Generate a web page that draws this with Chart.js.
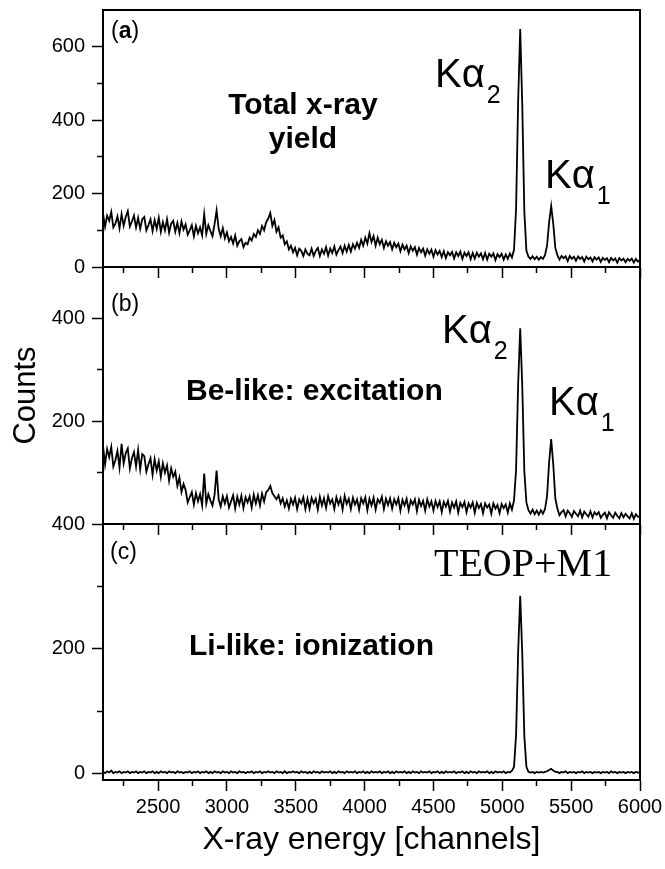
<!DOCTYPE html>
<html>
<head>
<meta charset="utf-8">
<script src="https://cdn.jsdelivr.net/npm/chart.js@4.4.1/dist/chart.umd.min.js"></script>
<style>
  body { margin: 0; background: #fff; }
  #fig { position: relative; width: 665px; height: 869px; overflow: hidden;
         font-family: "Liberation Sans", Arial, sans-serif; color: #000; }
  #fig canvas { position: absolute; left: 0; top: 0; }
  .lbl { position: absolute; white-space: nowrap; line-height: 1; }
  .tag { font-size: 23px; }
  .ann { font-size: 30px; font-weight: bold; }
  .ka { font-size: 40px; }
  .ka sub { font-size: 25px; line-height: 0; vertical-align: -16px; margin-left: 2px; }
  .teop { font-family: "Liberation Serif", "Times New Roman", serif; font-size: 40px; }
</style>
</head>
<body>
<div id="fig">
  <canvas id="panelA" width="665" height="869"></canvas>
  <canvas id="panelB" width="665" height="869"></canvas>
  <canvas id="panelC" width="665" height="869"></canvas>

  <div class="lbl tag" style="left:111px;top:19px">(<b>a</b>)</div>
  <div class="lbl tag" style="left:111px;top:292px">(b)</div>
  <div class="lbl tag" style="left:110px;top:540px">(c)</div>

  <div class="lbl ann" style="left:203px;top:87px;width:200px;text-align:center;line-height:34px">Total x-ray<br>yield</div>
  <div class="lbl ann" style="left:186px;top:375px">Be-like: excitation</div>
  <div class="lbl ann" style="left:189px;top:630px">Li-like: ionization</div>

  <div class="lbl ka" style="left:435px;top:53px">K&alpha;<sub>2</sub></div>
  <div class="lbl ka" style="left:545px;top:154px">K&alpha;<sub>1</sub></div>
  <div class="lbl ka" style="left:442px;top:309px">K&alpha;<sub>2</sub></div>
  <div class="lbl ka" style="left:549px;top:381px">K&alpha;<sub>1</sub></div>

  <div class="lbl teop" style="left:434px;top:543px">TEOP+M1</div>
</div>

<script>
// channel grid, 15 channels per point
const channels = Array.from({ length: 261 }, (_, i) => 2100 + 15 * i);

// tick positions
const energyTicks = [2500, 3000, 3500, 4000, 4500, 5000, 5500, 6000];
const energyMinorTicks = [2250, 2750, 3250, 3750, 4250, 4750, 5250, 5750];
const countTicksA = [0, 200, 400, 600];
const countMinorA = [100, 300, 500];
const countTicksB = [200, 400];
const countMinorB = [100, 300];
const countTicksC = [0, 200, 400];
const countMinorC = [100, 300];

// (a) total x-ray yield
const countsTotal = [
  146,110,140,126,150,108,118,138,106,144,112,136,152,110,124,140,108,134,104,130,
  136,100,114,130,98,128,104,134,96,122,100,130,94,118,126,96,120,92,124,102,
  116,88,100,114,84,112,92,108,86,144,90,114,98,84,116,154,104,84,106,78,
  94,70,82,64,86,58,70,76,54,66,62,80,72,90,82,100,90,112,100,122,
  132,147,112,128,96,108,80,86,62,70,48,58,40,52,32,50,44,30,48,36,
  32,50,30,44,52,30,48,36,54,31,50,38,56,34,46,56,38,58,42,60,
  42,62,50,66,52,74,58,80,64,92,68,84,58,80,62,74,52,70,58,68,
  48,66,54,64,43,61,48,58,38,56,44,54,34,52,40,50,31,48,36,47,
  28,46,34,44,27,43,24,40,32,41,23,40,30,42,22,39,30,40,21,38,
  23,39,28,37,21,38,20,36,28,37,19,35,27,36,20,34,22,37,26,47,
  158,450,648,440,150,45,28,22,29,21,28,20,27,22,32,58,122,166,118,52,
  32,20,30,24,29,16,30,22,28,17,29,22,27,15,28,21,26,15,27,20,
  26,14,25,19,24,13,25,18,23,12,24,18,23,13,22,17,23,12,22,15,
  18
];

// (b) Be-like: excitation
const countsBe = [
  152,116,146,130,150,112,124,142,110,156,118,138,147,108,128,140,112,144,106,136,
  132,102,116,128,96,126,104,122,92,118,100,114,84,108,92,102,74,90,62,78,
  66,42,52,62,38,60,44,58,36,98,40,58,46,36,56,104,48,34,54,40,
  54,32,44,56,30,53,38,55,31,52,42,54,32,57,40,56,36,59,44,62,
  66,74,60,54,48,56,40,50,34,46,30,49,38,51,29,48,40,52,29,49,
  30,51,40,49,28,53,36,50,31,54,40,48,29,52,38,50,28,55,39,49,
  29,51,38,48,28,50,40,52,27,49,36,51,28,48,41,53,29,49,37,50,
  30,48,38,50,26,47,36,49,27,46,38,48,25,47,35,45,26,48,34,44,
  26,45,33,44,23,43,34,45,24,42,32,44,22,41,33,43,23,40,32,42,
  22,41,31,39,21,40,32,38,20,40,30,37,21,39,31,38,22,40,28,46,
  105,272,381,268,102,42,27,20,28,19,26,18,27,20,29,54,120,165,116,50,
  30,17,23,27,15,26,21,14,25,20,15,26,13,24,19,14,25,13,23,18,
  23,12,18,22,11,23,17,12,22,16,11,21,13,20,15,11,21,10,19,14,
  15
];

// (c) Li-like: ionization
const countsLi = [
  3,1,4,2,5,1,3,2,4,1,3,2,4,1,3,2,4,1,3,2,
  4,1,3,2,4,1,3,1,4,2,3,1,4,2,3,1,4,2,3,1,
  3,2,4,1,3,2,4,1,3,2,4,1,3,1,4,2,3,1,4,2,
  3,1,4,2,3,1,4,2,3,1,3,2,4,1,3,2,4,1,3,2,
  4,2,3,1,4,2,3,1,4,1,3,2,4,2,3,1,4,2,3,1,
  3,1,4,2,3,1,4,2,3,2,4,1,3,1,4,2,3,1,4,2,
  3,2,4,1,3,2,4,1,3,1,4,2,3,2,4,1,3,2,4,1,
  3,1,4,2,3,2,4,1,3,1,4,2,3,1,4,2,3,2,4,1,
  3,2,4,1,3,1,4,2,3,2,4,1,3,2,4,1,3,1,4,2,
  3,1,4,2,3,2,4,1,3,1,4,2,3,2,4,1,3,2,5,11,
  62,195,285,192,60,11,3,2,3,1,3,2,3,2,3,4,6,8,5,3,
  3,1,3,2,4,1,3,2,3,1,3,2,4,1,3,2,3,1,3,2,
  3,1,3,2,3,1,4,2,3,1,3,2,3,1,3,2,3,1,3,2,
  2
];

const xMin = 2100, xMax = 6000;

Chart.defaults.font.family = '"Liberation Sans", Arial, sans-serif';
Chart.defaults.color = '#000';

function noPad(s) {
  s.paddingLeft = 0; s.paddingRight = 0; s.paddingTop = 0; s.paddingBottom = 0;
}

function setTicks(list) {
  return s => { s.ticks = list.map(v => ({ value: v })); };
}

function makePanel(id, values, o) {
  const scales = {
    x: {
      type: 'linear', axis: 'x', position: 'bottom', min: xMin, max: xMax,
      border: { color: '#000', width: 2 },
      grid: { drawOnChartArea: false, tickLength: 11, tickWidth: 1.5, tickColor: '#000' },
      ticks: { display: o.xLabels, padding: 4, autoSkip: false, maxRotation: 0,
               font: { size: 20 }, callback: v => String(v) },
      afterBuildTicks: setTicks(energyTicks),
      title: { display: o.xLabels, text: 'X-ray energy [channels]',
               font: { size: 32 }, padding: { top: 0, bottom: 10 } },
      afterFit: s => { s.height = o.xHeight; noPad(s); }
    },
    xMinor: {
      type: 'linear', axis: 'x', position: { y: o.yMin }, min: xMin, max: xMax,
      border: { display: false },
      grid: { drawOnChartArea: false, tickLength: 6, tickWidth: 1.5, tickColor: '#000' },
      ticks: { display: false },
      afterBuildTicks: setTicks(energyMinorTicks),
      afterFit: noPad
    },
    y: {
      type: 'linear', axis: 'y', position: 'left', min: o.yMin, max: o.yMax,
      border: { color: '#000', width: 2 },
      grid: { drawOnChartArea: false, tickLength: 11, tickWidth: 1.5, tickColor: '#000' },
      ticks: { padding: 7, font: { size: 20 }, callback: v => String(v) },
      afterBuildTicks: setTicks(o.yTicks),
      title: { display: !!o.yTitle, text: o.yTitle || '', font: { size: 31 }, padding: { top: 8, bottom: 0 } },
      afterFit: s => { s.width = 103; noPad(s); }
    },
    yMinor: {
      type: 'linear', axis: 'y', position: { x: xMin }, min: o.yMin, max: o.yMax,
      border: { display: false },
      grid: { drawOnChartArea: false, tickLength: 6, tickWidth: 1.5, tickColor: '#000' },
      ticks: { display: false },
      afterBuildTicks: setTicks(o.yMinor),
      afterFit: noPad
    },
    yRight: {
      type: 'linear', axis: 'y', position: 'right', min: o.yMin, max: o.yMax,
      border: { color: '#000', width: 2 },
      grid: { drawOnChartArea: false, drawTicks: false },
      ticks: { display: false },
      afterFit: s => { s.width = 0; noPad(s); }
    }
  };
  if (o.topBorder) {
    scales.xTop = {
      type: 'linear', axis: 'x', position: 'top', min: xMin, max: xMax,
      border: { color: '#000', width: 2 },
      grid: { drawOnChartArea: false, drawTicks: false },
      ticks: { display: false },
      afterFit: s => { s.height = 0; noPad(s); }
    };
  }

  return new Chart(document.getElementById(id), {
    type: 'line',
    data: {
      datasets: [{
        data: channels.map((c, i) => ({ x: c, y: values[i] })),
        xAxisID: 'x', yAxisID: 'y',
        borderColor: '#000', borderWidth: 1.8,
        pointRadius: 0, fill: false, tension: 0
      }]
    },
    options: {
      responsive: false, animation: false, events: [],
      layout: { autoPadding: false, padding: { left: 0, right: 25, top: o.top, bottom: o.bottom } },
      plugins: { legend: { display: false }, tooltip: { enabled: false } },
      scales: scales
    }
  });
}

makePanel('panelA', countsTotal, { top: 10, bottom: 602, xHeight: 0, yMin: 0, yMax: 700,
  xLabels: false, topBorder: true, yTicks: countTicksA, yMinor: countMinorA });
makePanel('panelB', countsBe, { top: 267, bottom: 345, xHeight: 0, yMin: 0, yMax: 500,
  xLabels: false, yTitle: 'Counts', yTicks: countTicksB, yMinor: countMinorB });
makePanel('panelC', countsLi, { top: 524, bottom: 0, xHeight: 89, yMin: -10, yMax: 400,
  xLabels: true, yTicks: countTicksC, yMinor: countMinorC });
</script>
</body>
</html>
